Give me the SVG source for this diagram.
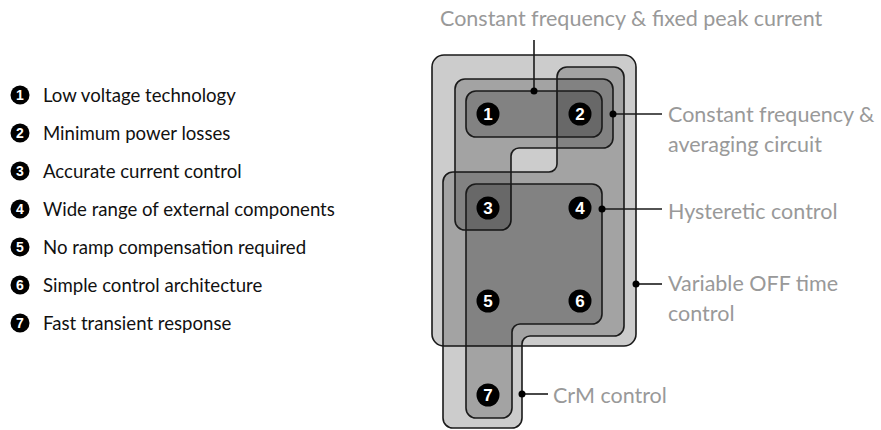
<svg xmlns="http://www.w3.org/2000/svg" width="881" height="430" viewBox="0 0 881 430">
<defs>
<style>
.region{fill:#000;fill-opacity:0.2;stroke:#1a1a1a;stroke-width:1.6}
.legend{font-family:Lato,"Open Sans","Liberation Sans",sans-serif;font-size:18.6px;fill:#111}
.label{font-family:Lato,"Open Sans","Liberation Sans",sans-serif;font-size:21.5px;fill:#999999}
.badge{fill:#000}
.digit{font-family:"Liberation Sans",Arial,sans-serif;font-weight:bold;fill:#fff;text-anchor:middle}
.big{font-size:17px}
.small{font-size:14px}
.conn{stroke:#1a1a1a;stroke-width:1.6;fill:none}
.dot{fill:#000}
</style>
</defs>
<rect width="881" height="430" fill="#fff"/>

<g id="legend">
<g id="legend-1"><circle class="badge" cx="20" cy="95" r="9.5"/><text class="digit small" x="20" y="100">1</text><text class="legend" x="43" y="102">Low voltage technology</text></g>
<g id="legend-2"><circle class="badge" cx="20" cy="133" r="9.5"/><text class="digit small" x="20" y="138">2</text><text class="legend" x="43" y="140">Minimum power losses</text></g>
<g id="legend-3"><circle class="badge" cx="20" cy="171" r="9.5"/><text class="digit small" x="20" y="176">3</text><text class="legend" x="43" y="178">Accurate current control</text></g>
<g id="legend-4"><circle class="badge" cx="20" cy="209" r="9.5"/><text class="digit small" x="20" y="214">4</text><text class="legend" x="43" y="216">Wide range of external components</text></g>
<g id="legend-5"><circle class="badge" cx="20" cy="247" r="9.5"/><text class="digit small" x="20" y="252">5</text><text class="legend" x="43" y="254">No ramp compensation required</text></g>
<g id="legend-6"><circle class="badge" cx="20" cy="285" r="9.5"/><text class="digit small" x="20" y="290">6</text><text class="legend" x="43" y="292">Simple control architecture</text></g>
<g id="legend-7"><circle class="badge" cx="20" cy="323" r="9.5"/><text class="digit small" x="20" y="328">7</text><text class="legend" x="43" y="330">Fast transient response</text></g>
</g>

<g id="variable-off-time">
<rect class="region" x="432" y="55" width="204" height="291" rx="12"/>
</g>
<g id="crm-control">
<path class="region" d="M453,172 H549 A8 8 0 0 0 557 164 V77 A10 10 0 0 1 567 67 H614 A10 10 0 0 1 624 77 V326 A10 10 0 0 1 614 336 H530 A8 8 0 0 0 522 344 V418 A10 10 0 0 1 512 428 H453 A10 10 0 0 1 443 418 V182 A10 10 0 0 1 453 172 Z"/>
</g>
<g id="constant-frequency-averaging">
<path class="region" d="M465,79 H603 A10 10 0 0 1 613 89 V138 A10 10 0 0 1 603 148 H519 A8 8 0 0 0 511 156 V220 A10 10 0 0 1 501 230 H465 A10 10 0 0 1 455 220 V89 A10 10 0 0 1 465 79 Z"/>
</g>
<g id="constant-frequency-peak">
<rect class="region" x="466" y="91" width="136" height="46" rx="10"/>
</g>
<g id="hysteretic-control">
<path class="region" d="M476,184 H592 A10 10 0 0 1 602 194 V314 A10 10 0 0 1 592 324 H520 A8 8 0 0 0 512 332 V408 A10 10 0 0 1 502 418 H476 A10 10 0 0 1 466 408 V194 A10 10 0 0 1 476 184 Z"/>
</g>

<g id="items">
<g id="item-1"><circle class="badge" cx="488" cy="114" r="11.5"/><text class="digit big" x="488" y="120">1</text></g>
<g id="item-2"><circle class="badge" cx="580" cy="114" r="11.5"/><text class="digit big" x="580" y="120">2</text></g>
<g id="item-3"><circle class="badge" cx="488" cy="208" r="11.5"/><text class="digit big" x="488" y="214">3</text></g>
<g id="item-4"><circle class="badge" cx="580" cy="208" r="11.5"/><text class="digit big" x="580" y="214">4</text></g>
<g id="item-5"><circle class="badge" cx="488" cy="301" r="11.5"/><text class="digit big" x="488" y="307">5</text></g>
<g id="item-6"><circle class="badge" cx="580" cy="301" r="11.5"/><text class="digit big" x="580" y="307">6</text></g>
<g id="item-7"><circle class="badge" cx="488" cy="395" r="11.5"/><text class="digit big" x="488" y="401">7</text></g>
</g>

<g id="connectors">
<line class="conn" x1="534" y1="91" x2="534" y2="40"/><circle class="dot" cx="534" cy="91" r="3.5"/>
<line class="conn" x1="613" y1="114" x2="662" y2="114"/><circle class="dot" cx="613" cy="114" r="3.5"/>
<line class="conn" x1="602" y1="209" x2="662" y2="209"/><circle class="dot" cx="602" cy="209" r="3.5"/>
<line class="conn" x1="636" y1="284" x2="662" y2="284"/><circle class="dot" cx="636" cy="284" r="3.5"/>
<line class="conn" x1="522" y1="394" x2="548" y2="394"/><circle class="dot" cx="522" cy="394" r="3.5"/>
</g>

<g id="labels">
<text class="label" x="440" y="26">Constant frequency &amp; fixed peak current</text>
<text class="label" x="668" y="122">Constant frequency &amp;</text>
<text class="label" x="668" y="152">averaging circuit</text>
<text class="label" x="668" y="219">Hysteretic control</text>
<text class="label" x="668" y="291">Variable OFF time</text>
<text class="label" x="668" y="321">control</text>
<text class="label" x="553" y="403">CrM control</text>
</g>
</svg>
